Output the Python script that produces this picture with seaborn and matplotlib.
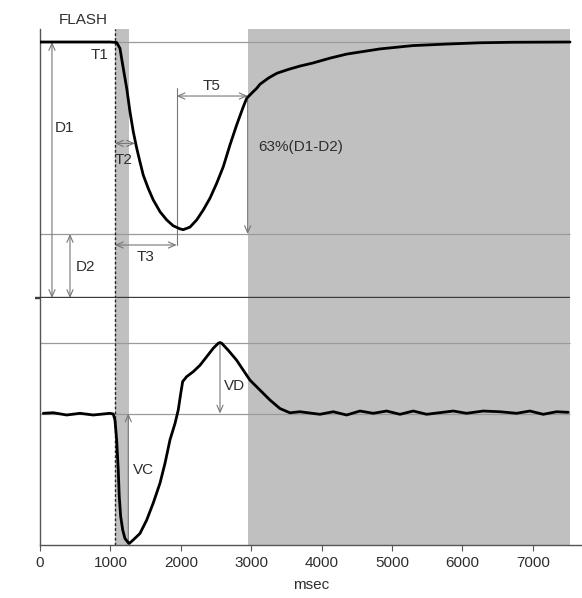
import matplotlib
matplotlib.use("Agg")
import matplotlib.pyplot as plt
import seaborn as sns

# ---- data ----
top_ms = [0, 994, 1089, 1136, 1183, 1232, 1278, 1325, 1374, 1420, 1467, 1538, 1609, 1705,
          1800, 1893, 1989, 2036, 2131, 2226, 2320, 2415, 2510, 2604, 2699, 2794, 2888,
          2936, 3007, 3078, 3125, 3250, 3366, 3530, 3693, 3878, 4120, 4361, 4830, 5298,
          5781, 6250, 6719, 7530]
top_pixel = [1.0, 1.0, 0.998, 0.975, 0.897, 0.819, 0.728, 0.650, 0.585, 0.532, 0.480, 0.428,
             0.383, 0.337, 0.305, 0.282, 0.270, 0.267, 0.277, 0.305, 0.344, 0.390, 0.448,
             0.513, 0.598, 0.676, 0.747, 0.780, 0.800, 0.819, 0.835, 0.860, 0.878, 0.893,
             0.906, 0.918, 0.937, 0.953, 0.973, 0.986, 0.992, 0.997, 0.999, 1.0]

vel_ms = [47, 189, 379, 568, 757, 994, 1041, 1065, 1089, 1112, 1126, 1146, 1175, 1207, 1254,
          1268, 1325, 1420, 1516, 1609, 1705, 1776, 1847, 1918, 1964, 1999, 2027, 2084, 2178,
          2273, 2368, 2462, 2533, 2557, 2581, 2675, 2794, 2888, 2983, 3125, 3267, 3409, 3551,
          3693, 3977, 4166, 4356, 4545, 4735, 4924, 5114, 5303, 5493, 5871, 6061, 6297, 6534,
          6771, 6960, 7149, 7339, 7504]
vel_pixel2 = [0.003, 0.011, -0.021, 0.003, -0.021, 0.003, -0.007, -0.09, -0.37, -0.80, -1.17,
              -1.45, -1.64, -1.76, -1.82, -1.83, -1.78, -1.69, -1.50, -1.26, -0.98, -0.70,
              -0.37, -0.14, 0.05, 0.28, 0.45, 0.52, 0.59, 0.68, 0.80, 0.92, 0.99, 1.0, 0.99,
              0.89, 0.75, 0.61, 0.47, 0.33, 0.19, 0.07, 0.01, 0.025, -0.011, 0.025, -0.021,
              0.035, 0.003, 0.035, -0.011, 0.035, -0.011, 0.035, 0.003, 0.035, 0.025, 0.003,
              0.035, -0.011, 0.025, 0.017]

x_ticks = [0, 1000, 2000, 3000, 4000, 5000, 6000, 7000]

flash_ms, flash_end_ms = 1065, 1265
shade_start_ms, shade_end_ms = 2955, 7530
D1, D2 = 1.0, 0.25
T2_ms, T2_level = 1349, 0.604
T3_ms, T3_level = 1941, 0.207
T5_ms, T5_level = 2950, 0.789
VD, VD_ms = 1.0, 2557
VC_ms = 1254

# ---- style ----
sns.set_theme(style="white")
plt.rcParams['font.family'] = ['Liberation Sans', 'DejaVu Sans']
TXT = '#2e2e2e'
REF = '#9a9a9a'
ARR = '#777777'
SHADE = '#c0c0c0'
FS = 11

fig = plt.figure(figsize=(5.82, 5.98), dpi=100)
ax1 = fig.add_axes([40/582, 300/598, 542/582, 269/598])
ax2 = fig.add_axes([40/582, 53/598, 542/582, 247/598], sharex=ax1)

for ax in (ax1, ax2):
    ax.axvspan(flash_ms, flash_end_ms, color=SHADE, lw=0, zorder=0)
    ax.axvspan(shade_start_ms, shade_end_ms, color=SHADE, lw=0, zorder=0)
    ax.axvline(flash_ms, color='#222222', lw=1.0, ls=(0, (2, 1.5)), zorder=3)
    ax.set_yticks([])
    for s in ('top', 'right'):
        ax.spines[s].set_visible(False)
    ax.spines['left'].set_color('#555555')
    ax.spines['left'].set_linewidth(1.0)

ax1.spines['bottom'].set_visible(False)
ax2.spines['bottom'].set_color('#555555')
ax2.spines['bottom'].set_linewidth(1.0)

ax1.set_xlim(0, 7700)
ax1.set_ylim(0, 1.0508)
ax2.set_ylim(-1.852, 1.627)

# reference lines
ax1.hlines([D1, D2], 0, shade_end_ms, color=REF, lw=0.9, zorder=1)
ax1.hlines(0, -70, shade_end_ms, color='#3a3a3a', lw=1.7, clip_on=False, zorder=4)
ax2.hlines([0, VD], 0, shade_end_ms, color=REF, lw=0.9, zorder=1)

# curves
sns.lineplot(x=top_ms, y=top_pixel, ax=ax1, color='black', linewidth=2.0, zorder=5)
sns.lineplot(x=vel_ms, y=vel_pixel2, ax=ax2, color='black', linewidth=2.0, zorder=5)
for ln in ax1.lines[-1:] + ax2.lines[-1:]:
    ln.set_solid_joinstyle('round')
    ln.set_solid_capstyle('round')

# arrows
def arrow(ax, xy_from, xy_to, style):
    ax.annotate('', xy=xy_to, xytext=xy_from,
                arrowprops=dict(arrowstyle=style + ',head_length=0.5,head_width=0.22',
                                color=ARR, lw=0.8, shrinkA=0, shrinkB=0,
                                mutation_scale=10), zorder=4)

arrow(ax1, (170, D1), (170, 0), '<->')
arrow(ax1, (426, D2), (426, 0), '<->')
arrow(ax1, (flash_ms, T2_level), (T2_ms, T2_level), '<->')
arrow(ax1, (flash_ms, T3_level), (T3_ms, T3_level), '<->')
arrow(ax1, (T3_ms, T5_level), (T5_ms, T5_level), '<->')
arrow(ax1, (T5_ms, T5_level), (T5_ms, D2), '->')
ax1.plot([T3_ms, T3_ms], [0.82, T3_level], color=ARR, lw=0.8, zorder=4)
arrow(ax2, (VD_ms, VD), (VD_ms, 0), '->')
arrow(ax2, (VC_ms, -1.852), (VC_ms, 0), '->')

# labels
def lab(ax, x, y, s, ha='center'):
    ax.text(x, y, s, ha=ha, va='center', fontsize=FS, color=TXT, clip_on=False, zorder=6)

lab(ax1, 611, 1.086, 'FLASH')
lab(ax1, 852, 0.949, 'T1')
lab(ax1, 355, 0.664, 'D1')
lab(ax1, 640, 0.121, 'D2')
lab(ax1, 1193, 0.539, 'T2')
lab(ax1, 1506, 0.160, 'T3')
lab(ax1, 2443, 0.828, 'T5')
lab(ax1, 3097, 0.59, '63%(D1-D2)', ha='left')
lab(ax2, 2770, 0.39, 'VD')
lab(ax2, 1477, -0.80, 'VC')

ax1.set_ylabel('pixel', fontsize=FS, color=TXT)
ax1.yaxis.set_label_coords(-0.015, 0.465)
ax2.set_ylabel('pixel2/sec', fontsize=FS, color=TXT)
ax2.yaxis.set_label_coords(-0.015, 0.5)
ax2.set_xlabel('msec', fontsize=FS, color=TXT)
ax2.xaxis.set_label_coords(0.5, -0.134)

ax2.set_xticks(x_ticks)
ax2.set_xticklabels([str(t) for t in x_ticks])
ax2.tick_params(axis='x', bottom=True, length=4, width=0.8, color='#555555',
                labelsize=FS, labelcolor=TXT, pad=4)
ax1.tick_params(axis='x', bottom=False, labelbottom=False)

fig.savefig('out.png', dpi=100)
